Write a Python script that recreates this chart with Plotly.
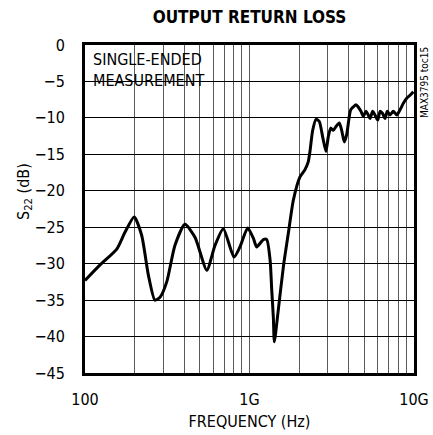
import plotly.graph_objects as go

# Output return loss (S22) versus frequency, single-ended measurement
freq_hz = [
    100e6, 123e6, 156e6, 175e6, 199e6, 221e6, 243e6, 266e6, 286e6, 314e6,
    352e6, 405e6, 467e6, 550e6, 617e6, 693e6, 805e6, 875e6, 975e6, 1.055e9,
    1.106e9, 1.214e9, 1.273e9, 1.334e9, 1.365e9, 1.396e9, 1.416e9, 1.497e9, 1.607e9, 1.723e9,
    1.847e9, 2.027e9, 2.174e9, 2.277e9, 2.331e9, 2.422e9, 2.536e9, 2.656e9, 2.784e9, 2.916e9,
    3.012e9, 3.116e9, 3.230e9, 3.352e9, 3.513e9, 3.634e9, 3.768e9, 3.897e9, 4.042e9, 4.121e9,
    4.274e9, 4.438e9, 4.581e9, 4.760e9, 4.916e9, 5.105e9, 5.271e9, 5.401e9, 5.609e9, 5.791e9,
    6.020e9, 6.216e9, 6.445e9, 6.662e9, 6.881e9, 7.148e9, 7.487e9, 7.850e9, 8.224e9, 8.614e9,
    9.030e9, 9.457e9, 9.908e9,
]
s22_db = [
    -32.3, -30.2, -28.0, -25.7, -23.6, -26.1, -31.6, -35.0, -34.6, -32.5,
    -27.5, -24.6, -26.4, -30.9, -27.5, -25.2, -29.1, -27.7, -25.1, -26.5,
    -27.7, -26.7, -26.7, -29.5, -33.6, -37.3, -40.7, -36.3, -30.4, -25.8,
    -21.3, -18.1, -17.1, -16.0, -14.6, -11.7, -10.2, -10.5, -12.6, -14.6,
    -12.6, -11.4, -11.7, -11.2, -10.7, -11.7, -13.3, -12.3, -9.8, -8.9,
    -8.5, -8.2, -8.5, -9.1, -9.8, -9.1, -9.6, -10.1, -9.1, -9.6,
    -10.3, -9.1, -9.4, -10.1, -9.1, -9.6, -9.1, -9.6, -8.9, -8.0,
    -7.3, -6.9, -6.4,
]

# Log grid: every 1..9 multiple of each decade, labels only at the decades
decade_labels = {1e8: "100", 1e9: "1G", 1e10: "10G"}
x_grid = [m * d for d in (1e8, 1e9) for m in range(1, 10)] + [1e10]
x_text = [decade_labels.get(v, "") for v in x_grid]
y_ticks = list(range(-45, 1, 5))

FONT = "DejaVu Sans Condensed, Roboto, Liberation Sans, sans-serif"
W, H = 433, 435

fig = go.Figure()
fig.add_trace(go.Scatter(
    x=freq_hz, y=s22_db, mode="lines",
    line=dict(color="black", width=3, shape="spline", smoothing=0.6),
    hoverinfo="skip", showlegend=False,
))

fig.update_layout(
    width=W, height=H,
    margin=dict(l=85, r=19, t=45, b=62),
    paper_bgcolor="white", plot_bgcolor="white",
    font=dict(family=FONT, size=16, color="black"),
    title=dict(
        text="<b>OUTPUT RETURN LOSS</b>",
        x=(85 + 414) / 2 / W, xanchor="center",
        y=1 - 17 / H, yanchor="middle",
        font=dict(family=FONT, size=17, color="black"),
    ),
    xaxis=dict(
        type="log", range=[8, 10], automargin=False,
        tickmode="array", tickvals=x_grid, ticktext=x_text,
        showgrid=True, gridcolor="#5a5a5a", gridwidth=1,
        showline=True, linecolor="black", linewidth=3, mirror=True,
        ticks="", zeroline=False, ticklabelstandoff=10,
        tickfont=dict(family=FONT, size=16),
        title=dict(text="FREQUENCY (Hz)", font=dict(family=FONT, size=16), standoff=8),
    ),
    yaxis=dict(
        range=[-45, 0], automargin=False,
        tickmode="array", tickvals=y_ticks,
        showgrid=True, gridcolor="black", gridwidth=1,
        showline=True, linecolor="black", linewidth=3, mirror=True,
        ticks="", zeroline=False, ticklabelstandoff=14,
        tickfont=dict(family=FONT, size=16),
    ),
)

# Y-axis title placed beside the tick labels
fig.add_annotation(
    xref="paper", yref="paper",
    x=(25 - 85) / (W - 85 - 19), y=(H - 62 - 192) / (H - 45 - 62),
    xanchor="center", yanchor="middle",
    text="S<sub>22</sub> (dB)", textangle=-90, showarrow=False,
    font=dict(family=FONT, size=16, color="black"),
)

# Measurement note in the upper-left corner, on a white patch over the grid
fig.add_shape(
    type="rect", xref="x", yref="y",
    x0=8.025, x1=8.705, y0=-6.8, y1=-0.3,
    fillcolor="white", line=dict(width=0), layer="above",
)
fig.add_annotation(
    xref="x", yref="y", x=8.035, y=-0.4,
    xanchor="left", yanchor="top", align="left",
    text="SINGLE-ENDED<br>MEASUREMENT", showarrow=False,
    font=dict(family=FONT, size=16, color="black"),
)

# Figure reference code along the right edge
fig.add_annotation(
    xref="paper", yref="paper", x=1.0, y=1.0,
    xanchor="left", yanchor="top", xshift=3,
    text="MAX3795 toc15", textangle=-90, showarrow=False,
    font=dict(family=FONT, size=10, color="black"),
)

fig.write_html("out.html")
